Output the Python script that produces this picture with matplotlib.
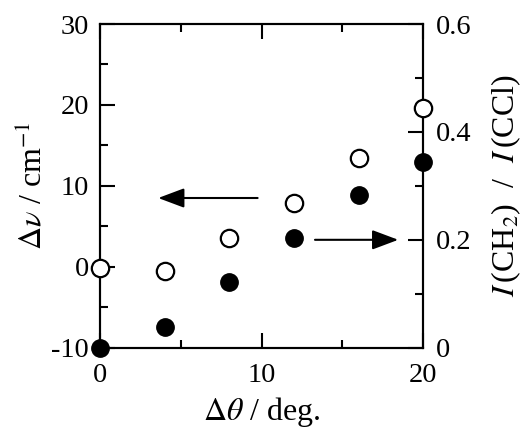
import matplotlib
matplotlib.use("Agg")
import matplotlib.pyplot as plt
from matplotlib.ticker import MultipleLocator

plt.rcParams['font.family'] = ['Liberation Serif', 'DejaVu Serif']
plt.rcParams['mathtext.fontset'] = 'stix'
plt.rcParams['axes.unicode_minus'] = False

# data
theta = [0, 4, 8, 12, 16, 20]
dnu = [-10, -7.4, -1.9, 3.6, 8.9, 12.9]          # left axis, filled
ratio = [0.148, 0.143, 0.203, 0.269, 0.351, 0.444]  # right axis, open

dpi = 100
fig = plt.figure(figsize=(525/dpi, 429/dpi), dpi=dpi)
ax1 = fig.add_axes([0.1905, 0.1895, 0.6158, 0.7545])
ax2 = ax1.twinx()

fs = 20.5
lfs = 23
lw = 1.5

ax1.plot(theta, dnu, 'o', color='black', ms=12.5, clip_on=False, zorder=5)
ax2.plot(theta, ratio, 'o', mfc='white', mec='black', mew=1.6, ms=12.5,
         clip_on=False, zorder=5)

ax1.set_xlim(0, 20)
ax1.set_ylim(-10, 30)
ax2.set_ylim(0, 0.6)

ax1.xaxis.set_major_locator(MultipleLocator(10))
ax1.xaxis.set_minor_locator(MultipleLocator(5))
ax1.yaxis.set_major_locator(MultipleLocator(10))
ax1.yaxis.set_minor_locator(MultipleLocator(5))
ax2.yaxis.set_major_locator(MultipleLocator(0.2))
ax2.yaxis.set_minor_locator(MultipleLocator(0.1))
ax2.yaxis.set_major_formatter(plt.FuncFormatter(lambda v, p: '0' if abs(v) < 1e-9 else f'{v:.1f}'))

ax1.tick_params(which='both', direction='in', top=True, right=False,
                width=lw, labelsize=fs)
ax1.tick_params(axis='y', pad=8)
ax1.tick_params(axis='x', pad=11)
ax1.tick_params(which='major', length=11)
ax1.tick_params(which='minor', length=6)
ax2.tick_params(which='both', direction='in', width=lw, labelsize=fs, pad=9)
ax2.tick_params(which='major', length=11)
ax2.tick_params(which='minor', length=6)

for ax in (ax1, ax2):
    for s in ax.spines.values():
        s.set_linewidth(lw)

ax1.set_xlabel(r'$\Delta\theta$ / deg.', fontsize=lfs, labelpad=5)
ax1.set_ylabel(r'$\Delta\nu$ / cm$^{-1}$', fontsize=lfs, labelpad=2)
ax2.set_ylabel(r'$I\,$(CH$_2$)  /  $I\,$(CCl)', fontsize=lfs, labelpad=13)

arrow = dict(arrowstyle='-|>,head_length=1.6,head_width=0.6',
             color='black', lw=lw, mutation_scale=10, shrinkA=0, shrinkB=0)
ax1.annotate('', xy=(3.6, 8.5), xytext=(9.75, 8.5), arrowprops=arrow)
ax2.annotate('', xy=(18.45, 0.2), xytext=(13.3, 0.2), arrowprops=arrow)

fig.savefig('out.png', dpi=dpi)
